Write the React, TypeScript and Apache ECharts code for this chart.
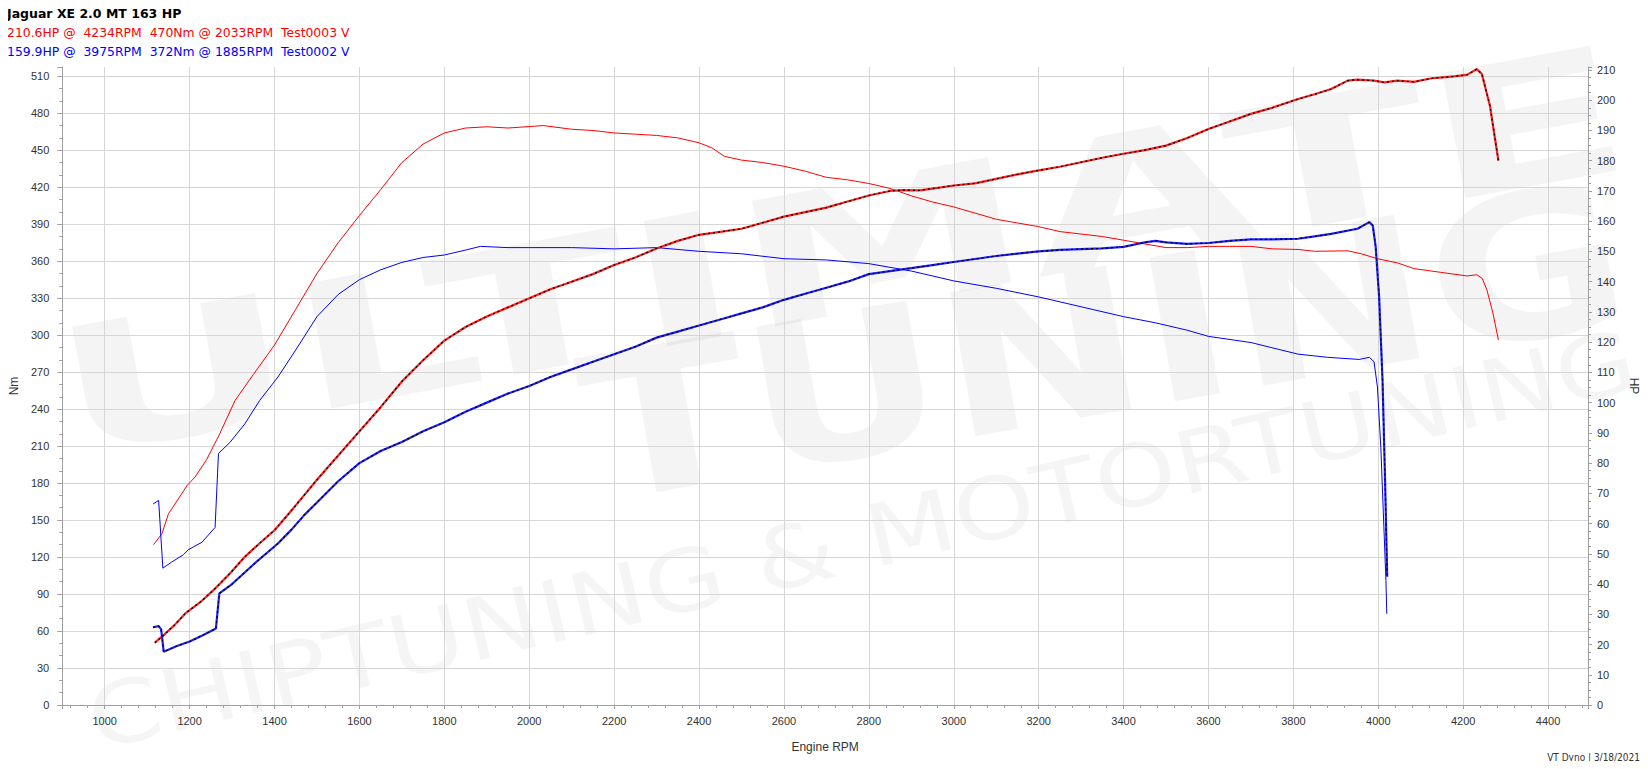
import React, { useEffect, useRef } from "react";
import * as echarts from "echarts";

// ---- Data ----
const titleLine = "Jaguar XE 2.0 MT 163 HP";
const redInfo = "210.6HP @  4234RPM  470Nm @ 2033RPM  Test0003 V";
const blueInfo = "159.9HP @  3975RPM  372Nm @ 1885RPM  Test0002 V";
const footer = "VT Dyno | 3/18/2021";
const watermarkWords = ["ULTIMATE", "TUNING", "CHIPTUNING & MOTORTUNING"];

// Red run: torque (Nm) [rpm, Nm]
const redTorque: [number, number][] = [
  [1115, 130], [1135, 139], [1150, 155], [1175, 168], [1194, 178], [1213, 185], [1240, 199],
  [1271, 220], [1307, 247], [1350, 268], [1400, 292], [1450, 321], [1500, 350], [1550, 375],
  [1600, 397], [1650, 418], [1700, 440], [1750, 455], [1800, 464], [1850, 468], [1900, 469],
  [1950, 468], [2033, 470], [2100, 467], [2150, 466], [2200, 464], [2250, 463], [2300, 462],
  [2350, 460], [2400, 456], [2430, 452], [2460, 445], [2500, 442], [2550, 440], [2600, 437],
  [2650, 433], [2700, 428], [2750, 426], [2800, 423], [2850, 419], [2900, 413], [2950, 408],
  [3000, 404], [3050, 399], [3100, 394], [3150, 391], [3200, 388], [3250, 384], [3300, 382],
  [3350, 380], [3400, 377], [3450, 374], [3500, 371], [3550, 371], [3600, 372], [3650, 372],
  [3700, 372], [3750, 370], [3811, 369.5], [3850, 368], [3928, 368.4], [3960, 366], [3998, 362],
  [4045, 358.6], [4084, 354], [4146, 351], [4209, 348], [4232, 349], [4245, 346], [4256, 336.5],
  [4270, 318], [4283, 296],
];

// Red run: power (HP) [rpm, HP]
const redPower: [number, number][] = [
  [1118, 20.6], [1139, 23.1], [1165, 26.5], [1190, 30.3], [1225, 34], [1260, 38.5], [1295, 43.5],
  [1330, 49], [1365, 53.5], [1400, 57.8], [1435, 63.5], [1470, 69.4], [1500, 74.5], [1550, 82.5],
  [1600, 90.5], [1650, 98.5], [1700, 107], [1750, 114], [1800, 120.5], [1850, 125], [1900, 128.5],
  [1950, 131.5], [2000, 134.5], [2050, 137.5], [2100, 140], [2150, 142.5], [2200, 145.5], [2250, 148],
  [2300, 151], [2350, 153.5], [2400, 155.5], [2450, 156.5], [2500, 157.5], [2550, 159.5], [2600, 161.5],
  [2650, 163], [2700, 164.5], [2750, 166.5], [2800, 168.5], [2850, 170], [2880, 170.3], [2920, 170.2],
  [2950, 170.8], [3000, 171.8], [3050, 172.5], [3100, 174], [3150, 175.5], [3200, 176.8], [3250, 178],
  [3300, 179.5], [3350, 181], [3400, 182.3], [3450, 183.5], [3500, 185], [3550, 187.5], [3600, 190.5],
  [3650, 193], [3700, 195.5], [3750, 197.5], [3811, 200.4], [3850, 202], [3889, 203.7], [3928, 206.5],
  [3951, 206.8], [3990, 206.5], [4014, 205.9], [4045, 206.5], [4084, 206.1], [4123, 207.2], [4178, 207.9],
  [4209, 208.4], [4232, 210.3], [4244, 208.7], [4263, 198.2], [4283, 180],
];

// Blue run: torque (Nm)
const blueTorque: [number, number][] = [
  [1114, 163], [1127, 166], [1137, 111], [1158, 116], [1186, 122], [1197, 126], [1229, 132],
  [1260, 144], [1268, 204], [1295, 213], [1330, 228], [1365, 247], [1408, 266], [1450, 288],
  [1500, 315], [1550, 333], [1600, 345], [1650, 353], [1700, 359], [1750, 363], [1800, 365],
  [1850, 369], [1885, 372], [1950, 371], [2000, 371], [2100, 371], [2200, 370], [2300, 371],
  [2400, 368], [2500, 366], [2600, 362], [2700, 361], [2800, 358], [2900, 352], [3000, 344],
  [3100, 338], [3200, 331], [3300, 323], [3400, 315], [3475, 310], [3550, 304], [3600, 299],
  [3700, 294], [3811, 284.6], [3881, 282], [3955, 280.3], [3979, 282], [3990, 278.4], [3998, 258],
  [4006, 209], [4012, 155], [4018, 101], [4020, 74],
];

// Blue run: power (HP)
const bluePower: [number, number][] = [
  [1114, 25.7], [1127, 26.1], [1133, 25], [1139, 17.6], [1170, 19.5], [1200, 21], [1230, 23],
  [1262, 25.3], [1270, 36.9], [1300, 40], [1353, 46.8], [1408, 53.4], [1440, 58], [1470, 62.8],
  [1500, 67], [1550, 74], [1600, 80], [1650, 84], [1700, 87], [1750, 90.5], [1800, 93.5], [1850, 97],
  [1900, 100], [1950, 103], [2000, 105.5], [2050, 108.5], [2100, 111], [2150, 113.5], [2200, 116],
  [2250, 118.5], [2300, 121.5], [2350, 123.5], [2400, 125.5], [2450, 127.5], [2500, 129.5],
  [2550, 131.5], [2600, 134], [2650, 136], [2700, 138], [2750, 140], [2800, 142.5], [2850, 143.5],
  [2900, 144.5], [2950, 145.5], [3000, 146.5], [3050, 147.5], [3100, 148.5], [3150, 149.3],
  [3200, 150], [3250, 150.5], [3300, 150.8], [3350, 151], [3400, 151.5], [3450, 153], [3475, 153.5],
  [3500, 153], [3550, 152.5], [3600, 152.8], [3650, 153.5], [3700, 154], [3750, 154], [3811, 154.2],
  [3850, 155], [3889, 155.8], [3951, 157.5], [3979, 159.7], [3987, 158.6], [3994, 151.4],
  [4002, 134.9], [4010, 107.4], [4016, 74.3], [4021, 42.4],
];

const HEAD_FONT = "'DejaVu Sans', Verdana, sans-serif";
const TICK_FONT = "'Liberation Sans', Arial, sans-serif";
const FOOT_FONT = "'DejaVu Sans Condensed', 'Liberation Sans', Arial, sans-serif";
const LABEL_COLOR = "#333333";
const AXIS_COLOR = "#a0a0a0";
const GRID_COLOR = "#d6d6d6";

export default function App() {
  const ref = useRef<HTMLDivElement>(null);

  useEffect(() => {
    if (!ref.current) return;
    const chart = echarts.init(ref.current, undefined, { renderer: "svg" });

    const wm = "rgba(0,0,0,0.042)";
    const centred = { textAlign: "center", textVerticalAlign: "middle", align: "center", verticalAlign: "middle" };
    const leftMid = { textAlign: "left", textVerticalAlign: "middle", align: "left", verticalAlign: "middle" };

    const option: any = {
      animation: false,
      backgroundColor: "#ffffff",
      textStyle: { fontFamily: TICK_FONT },
      grid: { left: 57, right: 56, top: 67, bottom: 64, containLabel: false },
      graphic: [
        {
          type: "text", x: 842, y: 252, rotation: 0.183, scaleX: 1.69, silent: true, z: -10,
          style: { text: watermarkWords[0], fill: wm, font: "bold 175px 'DejaVu Sans', sans-serif", ...centred },
        },
        {
          type: "text", x: 1105, y: 343, rotation: 0.174, scaleX: 1.21, silent: true, z: -10,
          style: { text: watermarkWords[1], fill: wm, font: "bold 200px 'DejaVu Sans', sans-serif", ...centred },
        },
        {
          type: "text", x: 862, y: 540, rotation: 0.23, scaleX: 1.21, silent: true, z: -10,
          style: { text: watermarkWords[2], fill: "rgba(0,0,0,0.04)", font: "86px 'DejaVu Sans', sans-serif", ...centred },
        },
        {
          type: "text", x: 7, y: 13, z: 100,
          style: { text: titleLine, fill: "#000000", font: "bold 12.5px " + HEAD_FONT, ...leftMid },
        },
        {
          type: "text", x: 7, y: 32, z: 100,
          style: { text: redInfo, fill: "#ff0000", font: "12.4px " + HEAD_FONT, ...leftMid },
        },
        {
          type: "text", x: 7, y: 51.5, z: 100,
          style: { text: blueInfo, fill: "#0000ff", font: "12.4px " + HEAD_FONT, ...leftMid },
        },
        {
          type: "text", x: 1640, y: 757, z: 100,
          style: { text: footer, fill: "#333333", font: "10px " + FOOT_FONT, textAlign: "right", textVerticalAlign: "middle", align: "right", verticalAlign: "middle" },
        },
      ],
      xAxis: {
        type: "value",
        min: 900,
        max: 4494,
        splitNumber: 18,
        name: "Engine RPM",
        nameLocation: "middle",
        nameGap: 36,
        nameTextStyle: { color: LABEL_COLOR, fontSize: 12, fontFamily: TICK_FONT },
        axisLine: { show: true, lineStyle: { color: AXIS_COLOR } },
        axisTick: { show: true, length: 4, lineStyle: { color: AXIS_COLOR } },
        minorTick: { show: true, splitNumber: 5, length: 3, lineStyle: { color: AXIS_COLOR } },
        axisLabel: {
          color: LABEL_COLOR, fontSize: 11, fontFamily: TICK_FONT, margin: 10,
          showMinLabel: false, showMaxLabel: false,
          formatter: (v: number) => String(Math.round(v)),
        },
        splitLine: { show: true, showMinLine: false, showMaxLine: false, lineStyle: { color: GRID_COLOR, width: 1 } },
      },
      yAxis: [
        {
          type: "value",
          position: "left",
          min: 0,
          max: 517.5,
          interval: 30,
          name: "Nm",
          nameLocation: "middle",
          nameGap: 42,
          nameRotate: 90,
          nameTextStyle: { color: LABEL_COLOR, fontSize: 12, fontFamily: TICK_FONT },
          axisLine: { show: true, lineStyle: { color: AXIS_COLOR } },
          axisTick: { show: true, length: 5, lineStyle: { color: AXIS_COLOR } },
          minorTick: { show: true, splitNumber: 3, length: 3, lineStyle: { color: AXIS_COLOR } },
          axisLabel: {
            color: LABEL_COLOR, fontSize: 11, fontFamily: TICK_FONT, margin: 13, showMaxLabel: false,
            formatter: (v: number) => String(Math.round(v)),
          },
          splitLine: { show: true, showMaxLine: false, lineStyle: { color: GRID_COLOR, width: 1 } },
        },
        {
          type: "value",
          position: "right",
          min: 0,
          max: 211,
          interval: 10,
          name: "HP",
          nameLocation: "middle",
          nameGap: 40,
          nameRotate: -90,
          nameTextStyle: { color: LABEL_COLOR, fontSize: 12, fontFamily: TICK_FONT },
          axisLine: { show: true, lineStyle: { color: AXIS_COLOR } },
          axisTick: { show: true, length: 4, lineStyle: { color: AXIS_COLOR } },
          minorTick: { show: true, splitNumber: 4, length: 3, lineStyle: { color: AXIS_COLOR } },
          axisLabel: {
            color: LABEL_COLOR, fontSize: 11, fontFamily: TICK_FONT, margin: 9, showMaxLabel: false,
            formatter: (v: number) => String(Math.round(v)),
          },
          splitLine: { show: false },
        },
      ],
      series: [
        {
          name: "Torque Test0003", type: "line", yAxisIndex: 0, data: redTorque,
          showSymbol: false, symbol: "none", lineStyle: { color: "#ff0000", width: 1 }, z: 3,
        },
        {
          name: "Torque Test0002", type: "line", yAxisIndex: 0, data: blueTorque,
          showSymbol: false, symbol: "none", lineStyle: { color: "#0000ff", width: 1 }, z: 3,
        },
        {
          name: "Power Test0003", type: "line", yAxisIndex: 1, data: redPower,
          showSymbol: false, symbol: "none", lineStyle: { color: "#ff2020", width: 2.2 }, z: 4,
        },
        {
          name: "Power Test0003 dash", type: "line", yAxisIndex: 1, data: redPower,
          showSymbol: false, symbol: "none", lineStyle: { color: "#000000", width: 1.3, type: [2, 3] }, z: 5,
        },
        {
          name: "Power Test0002", type: "line", yAxisIndex: 1, data: bluePower,
          showSymbol: false, symbol: "none", lineStyle: { color: "#2020ff", width: 2.2 }, z: 4,
        },
        {
          name: "Power Test0002 dash", type: "line", yAxisIndex: 1, data: bluePower,
          showSymbol: false, symbol: "none", lineStyle: { color: "#000000", width: 1.3, type: [2, 3] }, z: 5,
        },
      ],
    };

    chart.setOption(option);
    return () => chart.dispose();
  }, []);

  return <div ref={ref} style={{ width: 1648, height: 769, margin: -8 }} />;
}
